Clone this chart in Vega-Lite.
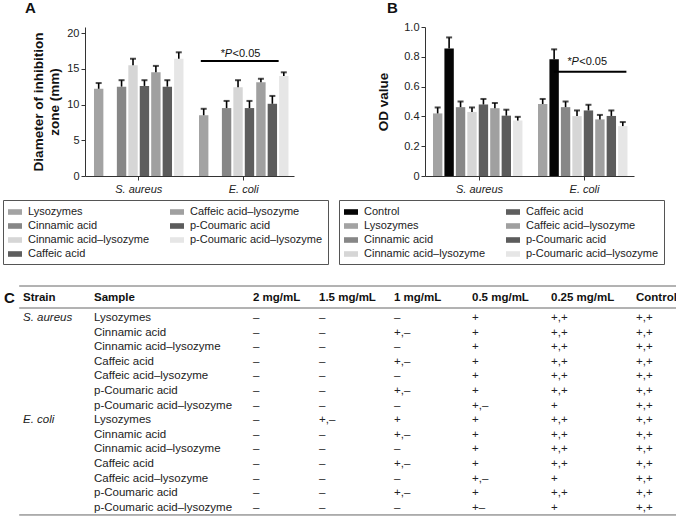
{
  "$schema": "https://vega.github.io/schema/vega-lite/v6.json",
  "padding": {"left": 2, "top": 1, "right": 0, "bottom": 0},
  "background": "white",
  "config": {
    "font": "Liberation Sans",
    "view": {"stroke": null},
    "axis": {"labelFontSize": 11, "labelColor": "#222", "domainColor": "#333", "tickColor": "#333", "tickSize": 4, "labelPadding": 2, "grid": false, "titleFontSize": 13.5, "titleFontWeight": "bold", "titleColor": "#111", "labelOverlap": false, "labelFlush": false},
    "legend": {"columns": 2, "columnPadding": 20, "rowPadding": 2, "padding": 5, "strokeColor": "#555", "strokeWidth": 1, "symbolSize": 196, "symbolStrokeWidth": 0, "labelFontSize": 11, "labelOffset": 6, "labelColor": "#222", "labelLimit": 300},
    "title": {"fontSize": 15, "fontWeight": "bold", "anchor": "start", "frame": "group", "color": "#111"}
  },
  "datasets": {
    "barsA": [
      {"strain": "S. aureus", "sample": "Lysozymes", "value": 12.2, "hi": 13.0},
      {"strain": "S. aureus", "sample": "Cinnamic acid", "value": 12.5, "hi": 13.4},
      {"strain": "S. aureus", "sample": "Cinnamic acid–lysozyme", "value": 15.5, "hi": 16.4},
      {"strain": "S. aureus", "sample": "Caffeic acid", "value": 12.6, "hi": 13.4},
      {"strain": "S. aureus", "sample": "Caffeic acid–lysozyme", "value": 14.5, "hi": 15.4},
      {"strain": "S. aureus", "sample": "p-Coumaric acid", "value": 12.5, "hi": 13.4},
      {"strain": "S. aureus", "sample": "p-Coumaric acid–lysozyme", "value": 16.4, "hi": 17.3},
      {"strain": "E. coli", "sample": "Lysozymes", "value": 8.5, "hi": 9.4},
      {"strain": "E. coli", "sample": "Cinnamic acid", "value": 9.5, "hi": 10.5},
      {"strain": "E. coli", "sample": "Cinnamic acid–lysozyme", "value": 12.4, "hi": 13.4},
      {"strain": "E. coli", "sample": "Caffeic acid", "value": 9.5, "hi": 10.5},
      {"strain": "E. coli", "sample": "Caffeic acid–lysozyme", "value": 13.1, "hi": 13.6},
      {"strain": "E. coli", "sample": "p-Coumaric acid", "value": 10.1, "hi": 11.2},
      {"strain": "E. coli", "sample": "p-Coumaric acid–lysozyme", "value": 14.0, "hi": 14.5}
    ],
    "barsB": [
      {"strain": "S. aureus", "sample": "Control", "value": 0.855, "hi": 0.93},
      {"strain": "S. aureus", "sample": "Lysozymes", "value": 0.42, "hi": 0.46},
      {"strain": "S. aureus", "sample": "Cinnamic acid", "value": 0.462, "hi": 0.5},
      {"strain": "S. aureus", "sample": "Cinnamic acid–lysozyme", "value": 0.43, "hi": 0.46},
      {"strain": "S. aureus", "sample": "Caffeic acid", "value": 0.48, "hi": 0.517},
      {"strain": "S. aureus", "sample": "Caffeic acid–lysozyme", "value": 0.455, "hi": 0.49},
      {"strain": "S. aureus", "sample": "p-Coumaric acid", "value": 0.405, "hi": 0.445},
      {"strain": "S. aureus", "sample": "p-Coumaric acid–lysozyme", "value": 0.372, "hi": 0.397},
      {"strain": "E. coli", "sample": "Control", "value": 0.783, "hi": 0.85},
      {"strain": "E. coli", "sample": "Lysozymes", "value": 0.483, "hi": 0.517},
      {"strain": "E. coli", "sample": "Cinnamic acid", "value": 0.462, "hi": 0.5},
      {"strain": "E. coli", "sample": "Cinnamic acid–lysozyme", "value": 0.402, "hi": 0.44},
      {"strain": "E. coli", "sample": "Caffeic acid", "value": 0.44, "hi": 0.478},
      {"strain": "E. coli", "sample": "Caffeic acid–lysozyme", "value": 0.38, "hi": 0.41},
      {"strain": "E. coli", "sample": "p-Coumaric acid", "value": 0.403, "hi": 0.44},
      {"strain": "E. coli", "sample": "p-Coumaric acid–lysozyme", "value": 0.335, "hi": 0.362}
    ],
    "sigA": [{"strain": "E. coli", "line": 16.1, "label": 17.1}],
    "sigB": [{"strain": "E. coli", "line": 0.70, "label": 0.765}]
  },
  "spacing": 20,
  "vconcat": [
    {
      "spacing": 9,
      "resolve": {"scale": {"color": "independent"}, "legend": {"color": "independent"}},
      "hconcat": [
        {
          "width": 209,
          "height": 149,
          "title": {"text": "A", "dx": -60, "offset": 11},
          "data": {"name": "barsA"},
          "encoding": {
            "x": {"field": "strain", "type": "nominal", "sort": ["S. aureus", "E. coli"], "scale": {"paddingInner": 0.148, "paddingOuter": 0.069, "align": 0.62}, "axis": {"title": null, "labelAngle": 0, "labelFontStyle": "italic", "labelPadding": 3}}
          },
          "layer": [
            {
              "mark": {"type": "bar"},
              "encoding": {
                "xOffset": {"field": "sample", "type": "nominal", "sort": ["Lysozymes", "Cinnamic acid", "Cinnamic acid–lysozyme", "Caffeic acid", "Caffeic acid–lysozyme", "p-Coumaric acid", "p-Coumaric acid–lysozyme"], "scale": {"paddingInner": 0.18, "paddingOuter": 0}},
                "y": {"field": "value", "type": "quantitative", "title": ["Diameter of inhibition", "zone (mm)"], "scale": {"domain": [0, 20.84], "nice": false}, "axis": {"values": [0, 5, 10, 15, 20], "labelOverlap": false, "titlePadding": 5, "titleLineHeight": 16}},
                "color": {"field": "sample", "type": "nominal", "scale": {"domain": ["Lysozymes", "Cinnamic acid", "Cinnamic acid–lysozyme", "Caffeic acid", "Caffeic acid–lysozyme", "p-Coumaric acid", "p-Coumaric acid–lysozyme"], "range": ["#a3a3a3", "#878787", "#d6d6d6", "#5e5e5e", "#a0a0a0", "#5c5c5c", "#e6e6e6"]}, "legend": {"title": null, "orient": "none", "legendX": -82, "legendY": 173, "symbolType": "M-1,-0.4H1V0.4H-1Z"}}
              }
            },
            {
              "mark": {"type": "rule", "color": "#000", "strokeWidth": 1.6},
              "encoding": {
                "xOffset": {"field": "sample", "type": "nominal", "sort": ["Lysozymes", "Cinnamic acid", "Cinnamic acid–lysozyme", "Caffeic acid", "Caffeic acid–lysozyme", "p-Coumaric acid", "p-Coumaric acid–lysozyme"]},
                "y": {"field": "value", "type": "quantitative", "title": ["Diameter of inhibition", "zone (mm)"], "axis": {"values": [0, 5, 10, 15, 20], "labelOverlap": false, "titlePadding": 5, "titleLineHeight": 16}},
                "y2": {"field": "hi"}
              }
            },
            {
              "mark": {"type": "tick", "color": "#000", "thickness": 2, "size": 6},
              "encoding": {
                "xOffset": {"field": "sample", "type": "nominal", "sort": ["Lysozymes", "Cinnamic acid", "Cinnamic acid–lysozyme", "Caffeic acid", "Caffeic acid–lysozyme", "p-Coumaric acid", "p-Coumaric acid–lysozyme"]},
                "y": {"field": "hi", "type": "quantitative", "title": ["Diameter of inhibition", "zone (mm)"], "axis": {"values": [0, 5, 10, 15, 20], "labelOverlap": false, "titlePadding": 5, "titleLineHeight": 16}}
              }
            },
            {
              "data": {"name": "sigA"},
              "mark": {"type": "rule", "color": "#000", "strokeWidth": 2},
              "encoding": {
                "x": {"field": "strain", "type": "nominal", "bandPosition": 0.02},
                "x2": {"field": "strain", "bandPosition": 0.89},
                "y": {"field": "line", "type": "quantitative", "title": ["Diameter of inhibition", "zone (mm)"], "axis": {"values": [0, 5, 10, 15, 20], "labelOverlap": false, "titlePadding": 5, "titleLineHeight": 16}}
              }
            },
            {
              "data": {"name": "sigA"},
              "mark": {"type": "text", "text": "*", "align": "right", "baseline": "middle", "dx": -3.5, "fontSize": 11, "color": "#111"},
              "encoding": {"x": {"field": "strain", "type": "nominal", "bandPosition": 0.33}, "y": {"field": "label", "type": "quantitative", "title": ["Diameter of inhibition", "zone (mm)"], "axis": {"values": [0, 5, 10, 15, 20], "labelOverlap": false, "titlePadding": 5, "titleLineHeight": 16}}}
            },
            {
              "data": {"name": "sigA"},
              "mark": {"type": "text", "text": "P", "align": "center", "baseline": "middle", "fontStyle": "italic", "fontSize": 11, "color": "#111"},
              "encoding": {"x": {"field": "strain", "type": "nominal", "bandPosition": 0.33}, "y": {"field": "label", "type": "quantitative", "title": ["Diameter of inhibition", "zone (mm)"], "axis": {"values": [0, 5, 10, 15, 20], "labelOverlap": false, "titlePadding": 5, "titleLineHeight": 16}}}
            },
            {
              "data": {"name": "sigA"},
              "mark": {"type": "text", "text": "<0.05", "align": "left", "baseline": "middle", "dx": 4, "fontSize": 11, "color": "#111"},
              "encoding": {"x": {"field": "strain", "type": "nominal", "bandPosition": 0.33}, "y": {"field": "label", "type": "quantitative", "title": ["Diameter of inhibition", "zone (mm)"], "axis": {"values": [0, 5, 10, 15, 20], "labelOverlap": false, "titlePadding": 5, "titleLineHeight": 16}}}
            }
          ]
        },
        {
          "width": 209,
          "height": 149,
          "title": {"text": "B", "dx": -38, "offset": 5},
          "data": {"name": "barsB"},
          "encoding": {
            "x": {"field": "strain", "type": "nominal", "sort": ["S. aureus", "E. coli"], "scale": {"paddingInner": 0.114, "paddingOuter": 0.052, "align": 0.73}, "axis": {"title": null, "labelAngle": 0, "labelFontStyle": "italic", "labelPadding": 3}}
          },
          "layer": [
            {
              "mark": {"type": "bar"},
              "encoding": {
                "xOffset": {"field": "sample", "type": "nominal", "sort": ["Control", "Lysozymes", "Cinnamic acid", "Cinnamic acid–lysozyme", "Caffeic acid", "Caffeic acid–lysozyme", "p-Coumaric acid", "p-Coumaric acid–lysozyme"], "scale": {"paddingInner": 0.18, "paddingOuter": 0}},
                "y": {"field": "value", "type": "quantitative", "title": "OD value", "scale": {"domain": [0, 1], "nice": false}, "axis": {"values": [0, 0.2, 0.4, 0.6, 0.8, 1], "labelOverlap": false, "labelExpr": "datum.value == 0 ? '0' : format(datum.value, '.1f')", "titlePadding": 13}},
                "color": {"field": "sample", "type": "nominal", "scale": {"domain": ["Control", "Lysozymes", "Cinnamic acid", "Cinnamic acid–lysozyme", "Caffeic acid", "Caffeic acid–lysozyme", "p-Coumaric acid", "p-Coumaric acid–lysozyme"], "range": ["#050505", "#a3a3a3", "#878787", "#d6d6d6", "#5e5e5e", "#a0a0a0", "#5c5c5c", "#e6e6e6"]}, "legend": {"title": null, "orient": "none", "legendX": -86, "legendY": 173, "symbolType": "M-1,-0.4H1V0.4H-1Z"}}
              }
            },
            {
              "mark": {"type": "rule", "color": "#000", "strokeWidth": 1.6},
              "encoding": {
                "xOffset": {"field": "sample", "type": "nominal", "sort": ["Control", "Lysozymes", "Cinnamic acid", "Cinnamic acid–lysozyme", "Caffeic acid", "Caffeic acid–lysozyme", "p-Coumaric acid", "p-Coumaric acid–lysozyme"]},
                "y": {"field": "value", "type": "quantitative", "title": "OD value", "axis": {"values": [0, 0.2, 0.4, 0.6, 0.8, 1], "labelOverlap": false, "labelExpr": "datum.value == 0 ? '0' : format(datum.value, '.1f')", "titlePadding": 13}},
                "y2": {"field": "hi"}
              }
            },
            {
              "mark": {"type": "tick", "color": "#000", "thickness": 2, "size": 6},
              "encoding": {
                "xOffset": {"field": "sample", "type": "nominal", "sort": ["Control", "Lysozymes", "Cinnamic acid", "Cinnamic acid–lysozyme", "Caffeic acid", "Caffeic acid–lysozyme", "p-Coumaric acid", "p-Coumaric acid–lysozyme"]},
                "y": {"field": "hi", "type": "quantitative", "title": "OD value", "axis": {"values": [0, 0.2, 0.4, 0.6, 0.8, 1], "labelOverlap": false, "labelExpr": "datum.value == 0 ? '0' : format(datum.value, '.1f')", "titlePadding": 13}}
              }
            },
            {
              "data": {"name": "sigB"},
              "mark": {"type": "rule", "color": "#000", "strokeWidth": 2},
              "encoding": {
                "x": {"field": "strain", "type": "nominal", "bandPosition": 0.17},
                "x2": {"field": "strain", "bandPosition": 0.95},
                "y": {"field": "line", "type": "quantitative", "title": "OD value", "axis": {"values": [0, 0.2, 0.4, 0.6, 0.8, 1], "labelOverlap": false, "labelExpr": "datum.value == 0 ? '0' : format(datum.value, '.1f')", "titlePadding": 13}}
              }
            },
            {
              "data": {"name": "sigB"},
              "mark": {"type": "text", "text": "*", "align": "right", "baseline": "middle", "dx": -3.5, "fontSize": 11, "color": "#111"},
              "encoding": {"x": {"field": "strain", "type": "nominal", "bandPosition": 0.4}, "y": {"field": "label", "type": "quantitative", "title": "OD value", "axis": {"values": [0, 0.2, 0.4, 0.6, 0.8, 1], "labelOverlap": false, "labelExpr": "datum.value == 0 ? '0' : format(datum.value, '.1f')", "titlePadding": 13}}}
            },
            {
              "data": {"name": "sigB"},
              "mark": {"type": "text", "text": "P", "align": "center", "baseline": "middle", "fontStyle": "italic", "fontSize": 11, "color": "#111"},
              "encoding": {"x": {"field": "strain", "type": "nominal", "bandPosition": 0.4}, "y": {"field": "label", "type": "quantitative", "title": "OD value", "axis": {"values": [0, 0.2, 0.4, 0.6, 0.8, 1], "labelOverlap": false, "labelExpr": "datum.value == 0 ? '0' : format(datum.value, '.1f')", "titlePadding": 13}}}
            },
            {
              "data": {"name": "sigB"},
              "mark": {"type": "text", "text": "<0.05", "align": "left", "baseline": "middle", "dx": 4, "fontSize": 11, "color": "#111"},
              "encoding": {"x": {"field": "strain", "type": "nominal", "bandPosition": 0.4}, "y": {"field": "label", "type": "quantitative", "title": "OD value", "axis": {"values": [0, 0.2, 0.4, 0.6, 0.8, 1], "labelOverlap": false, "labelExpr": "datum.value == 0 ? '0' : format(datum.value, '.1f')", "titlePadding": 13}}}
            }
          ]
        }
      ]
    },
    {
      "width": 592,
      "height": 229,
      "data": {"values": [
        {"r": 0, "c": -1, "t": "C", "k": "panel"},
        {"r": 0, "c": 0, "t": "Strain", "k": "head"}, {"r": 0, "c": 1, "t": "Sample", "k": "head"}, {"r": 0, "c": 2, "t": "2 mg/mL", "k": "head"}, {"r": 0, "c": 3, "t": "1.5 mg/mL", "k": "head"}, {"r": 0, "c": 4, "t": "1 mg/mL", "k": "head"}, {"r": 0, "c": 5, "t": "0.5 mg/mL", "k": "head"}, {"r": 0, "c": 6, "t": "0.25 mg/mL", "k": "head"}, {"r": 0, "c": 7, "t": "Control", "k": "head"},
        {"r": 1, "c": 0, "t": "S. aureus", "k": "strain"},
        {"r": 8, "c": 0, "t": "E. coli", "k": "strain"},
        {"r": 1, "c": 1, "t": "Lysozymes", "k": "cell"}, {"r": 1, "c": 2, "t": "–", "k": "cell"}, {"r": 1, "c": 3, "t": "–", "k": "cell"}, {"r": 1, "c": 4, "t": "–", "k": "cell"}, {"r": 1, "c": 5, "t": "+", "k": "cell"}, {"r": 1, "c": 6, "t": "+,+", "k": "cell"}, {"r": 1, "c": 7, "t": "+,+", "k": "cell"},
        {"r": 2, "c": 1, "t": "Cinnamic acid", "k": "cell"}, {"r": 2, "c": 2, "t": "–", "k": "cell"}, {"r": 2, "c": 3, "t": "–", "k": "cell"}, {"r": 2, "c": 4, "t": "+,–", "k": "cell"}, {"r": 2, "c": 5, "t": "+", "k": "cell"}, {"r": 2, "c": 6, "t": "+,+", "k": "cell"}, {"r": 2, "c": 7, "t": "+,+", "k": "cell"},
        {"r": 3, "c": 1, "t": "Cinnamic acid–lysozyme", "k": "cell"}, {"r": 3, "c": 2, "t": "–", "k": "cell"}, {"r": 3, "c": 3, "t": "–", "k": "cell"}, {"r": 3, "c": 4, "t": "–", "k": "cell"}, {"r": 3, "c": 5, "t": "+", "k": "cell"}, {"r": 3, "c": 6, "t": "+,+", "k": "cell"}, {"r": 3, "c": 7, "t": "+,+", "k": "cell"},
        {"r": 4, "c": 1, "t": "Caffeic acid", "k": "cell"}, {"r": 4, "c": 2, "t": "–", "k": "cell"}, {"r": 4, "c": 3, "t": "–", "k": "cell"}, {"r": 4, "c": 4, "t": "+,–", "k": "cell"}, {"r": 4, "c": 5, "t": "+", "k": "cell"}, {"r": 4, "c": 6, "t": "+,+", "k": "cell"}, {"r": 4, "c": 7, "t": "+,+", "k": "cell"},
        {"r": 5, "c": 1, "t": "Caffeic acid–lysozyme", "k": "cell"}, {"r": 5, "c": 2, "t": "–", "k": "cell"}, {"r": 5, "c": 3, "t": "–", "k": "cell"}, {"r": 5, "c": 4, "t": "–", "k": "cell"}, {"r": 5, "c": 5, "t": "+", "k": "cell"}, {"r": 5, "c": 6, "t": "+,+", "k": "cell"}, {"r": 5, "c": 7, "t": "+,+", "k": "cell"},
        {"r": 6, "c": 1, "t": "p-Coumaric acid", "k": "cell"}, {"r": 6, "c": 2, "t": "–", "k": "cell"}, {"r": 6, "c": 3, "t": "–", "k": "cell"}, {"r": 6, "c": 4, "t": "+,–", "k": "cell"}, {"r": 6, "c": 5, "t": "+", "k": "cell"}, {"r": 6, "c": 6, "t": "+,+", "k": "cell"}, {"r": 6, "c": 7, "t": "+,+", "k": "cell"},
        {"r": 7, "c": 1, "t": "p-Coumaric acid–lysozyme", "k": "cell"}, {"r": 7, "c": 2, "t": "–", "k": "cell"}, {"r": 7, "c": 3, "t": "–", "k": "cell"}, {"r": 7, "c": 4, "t": "–", "k": "cell"}, {"r": 7, "c": 5, "t": "+,–", "k": "cell"}, {"r": 7, "c": 6, "t": "+", "k": "cell"}, {"r": 7, "c": 7, "t": "+,+", "k": "cell"},
        {"r": 8, "c": 1, "t": "Lysozymes", "k": "cell"}, {"r": 8, "c": 2, "t": "–", "k": "cell"}, {"r": 8, "c": 3, "t": "+,–", "k": "cell"}, {"r": 8, "c": 4, "t": "+", "k": "cell"}, {"r": 8, "c": 5, "t": "+", "k": "cell"}, {"r": 8, "c": 6, "t": "+,+", "k": "cell"}, {"r": 8, "c": 7, "t": "+,+", "k": "cell"},
        {"r": 9, "c": 1, "t": "Cinnamic acid", "k": "cell"}, {"r": 9, "c": 2, "t": "–", "k": "cell"}, {"r": 9, "c": 3, "t": "–", "k": "cell"}, {"r": 9, "c": 4, "t": "+,–", "k": "cell"}, {"r": 9, "c": 5, "t": "+", "k": "cell"}, {"r": 9, "c": 6, "t": "+,+", "k": "cell"}, {"r": 9, "c": 7, "t": "+,+", "k": "cell"},
        {"r": 10, "c": 1, "t": "Cinnamic acid–lysozyme", "k": "cell"}, {"r": 10, "c": 2, "t": "–", "k": "cell"}, {"r": 10, "c": 3, "t": "–", "k": "cell"}, {"r": 10, "c": 4, "t": "–", "k": "cell"}, {"r": 10, "c": 5, "t": "+", "k": "cell"}, {"r": 10, "c": 6, "t": "+,+", "k": "cell"}, {"r": 10, "c": 7, "t": "+,+", "k": "cell"},
        {"r": 11, "c": 1, "t": "Caffeic acid", "k": "cell"}, {"r": 11, "c": 2, "t": "–", "k": "cell"}, {"r": 11, "c": 3, "t": "–", "k": "cell"}, {"r": 11, "c": 4, "t": "+,–", "k": "cell"}, {"r": 11, "c": 5, "t": "+", "k": "cell"}, {"r": 11, "c": 6, "t": "+,+", "k": "cell"}, {"r": 11, "c": 7, "t": "+,+", "k": "cell"},
        {"r": 12, "c": 1, "t": "Caffeic acid–lysozyme", "k": "cell"}, {"r": 12, "c": 2, "t": "–", "k": "cell"}, {"r": 12, "c": 3, "t": "–", "k": "cell"}, {"r": 12, "c": 4, "t": "–", "k": "cell"}, {"r": 12, "c": 5, "t": "+,–", "k": "cell"}, {"r": 12, "c": 6, "t": "+", "k": "cell"}, {"r": 12, "c": 7, "t": "+,+", "k": "cell"},
        {"r": 13, "c": 1, "t": "p-Coumaric acid", "k": "cell"}, {"r": 13, "c": 2, "t": "–", "k": "cell"}, {"r": 13, "c": 3, "t": "–", "k": "cell"}, {"r": 13, "c": 4, "t": "+,–", "k": "cell"}, {"r": 13, "c": 5, "t": "+", "k": "cell"}, {"r": 13, "c": 6, "t": "+,+", "k": "cell"}, {"r": 13, "c": 7, "t": "+,+", "k": "cell"},
        {"r": 14, "c": 1, "t": "p-Coumaric acid–lysozyme", "k": "cell"}, {"r": 14, "c": 2, "t": "–", "k": "cell"}, {"r": 14, "c": 3, "t": "–", "k": "cell"}, {"r": 14, "c": 4, "t": "–", "k": "cell"}, {"r": 14, "c": 5, "t": "+–", "k": "cell"}, {"r": 14, "c": 6, "t": "+", "k": "cell"}, {"r": 14, "c": 7, "t": "+,+", "k": "cell"},
        {"r": -0.6, "c": -0.2, "c2": 7.48, "k": "line"}, {"r": 0.5, "c": -0.2, "c2": 7.48, "k": "line"}, {"r": 14.49, "c": -0.2, "c2": 7.48, "k": "line"}
      ]},
      "layer": [
        {
          "transform": [{"filter": "datum.k == 'line'"}],
          "mark": {"type": "rule", "color": "#666", "strokeWidth": 1},
          "encoding": {
            "x": {"field": "c", "type": "quantitative", "scale": {"domain": [-1, 0, 1, 2, 3, 4, 5, 6, 7], "range": [-81, -62, 9, 168, 234, 309, 387, 466, 551], "nice": false, "zero": false}, "axis": null},
            "x2": {"field": "c2"},
            "y": {"field": "r", "type": "quantitative", "scale": {"domain": [0, 1, 14], "range": [12, 32, 221.8], "nice": false, "zero": false}, "axis": null}
          }
        },
        {
          "transform": [{"filter": "datum.k == 'panel'"}],
          "mark": {"type": "text", "align": "left", "baseline": "middle", "fontSize": 15, "fontWeight": "bold", "color": "#111"},
          "encoding": {"text": {"field": "t"}, "x": {"field": "c", "type": "quantitative"}, "y": {"field": "r", "type": "quantitative"}}
        },
        {
          "transform": [{"filter": "datum.k == 'head'"}],
          "mark": {"type": "text", "align": "left", "baseline": "middle", "fontSize": 11.5, "fontWeight": "bold", "color": "#111"},
          "encoding": {"text": {"field": "t"}, "x": {"field": "c", "type": "quantitative"}, "y": {"field": "r", "type": "quantitative"}}
        },
        {
          "transform": [{"filter": "datum.k == 'strain'"}],
          "mark": {"type": "text", "align": "left", "baseline": "middle", "fontSize": 11.5, "fontStyle": "italic", "color": "#222"},
          "encoding": {"text": {"field": "t"}, "x": {"field": "c", "type": "quantitative"}, "y": {"field": "r", "type": "quantitative"}}
        },
        {
          "transform": [{"filter": "datum.k == 'cell'"}],
          "mark": {"type": "text", "align": "left", "baseline": "middle", "fontSize": 11.5, "color": "#222"},
          "encoding": {"text": {"field": "t"}, "x": {"field": "c", "type": "quantitative"}, "y": {"field": "r", "type": "quantitative"}}
        }
      ]
    }
  ]
}
